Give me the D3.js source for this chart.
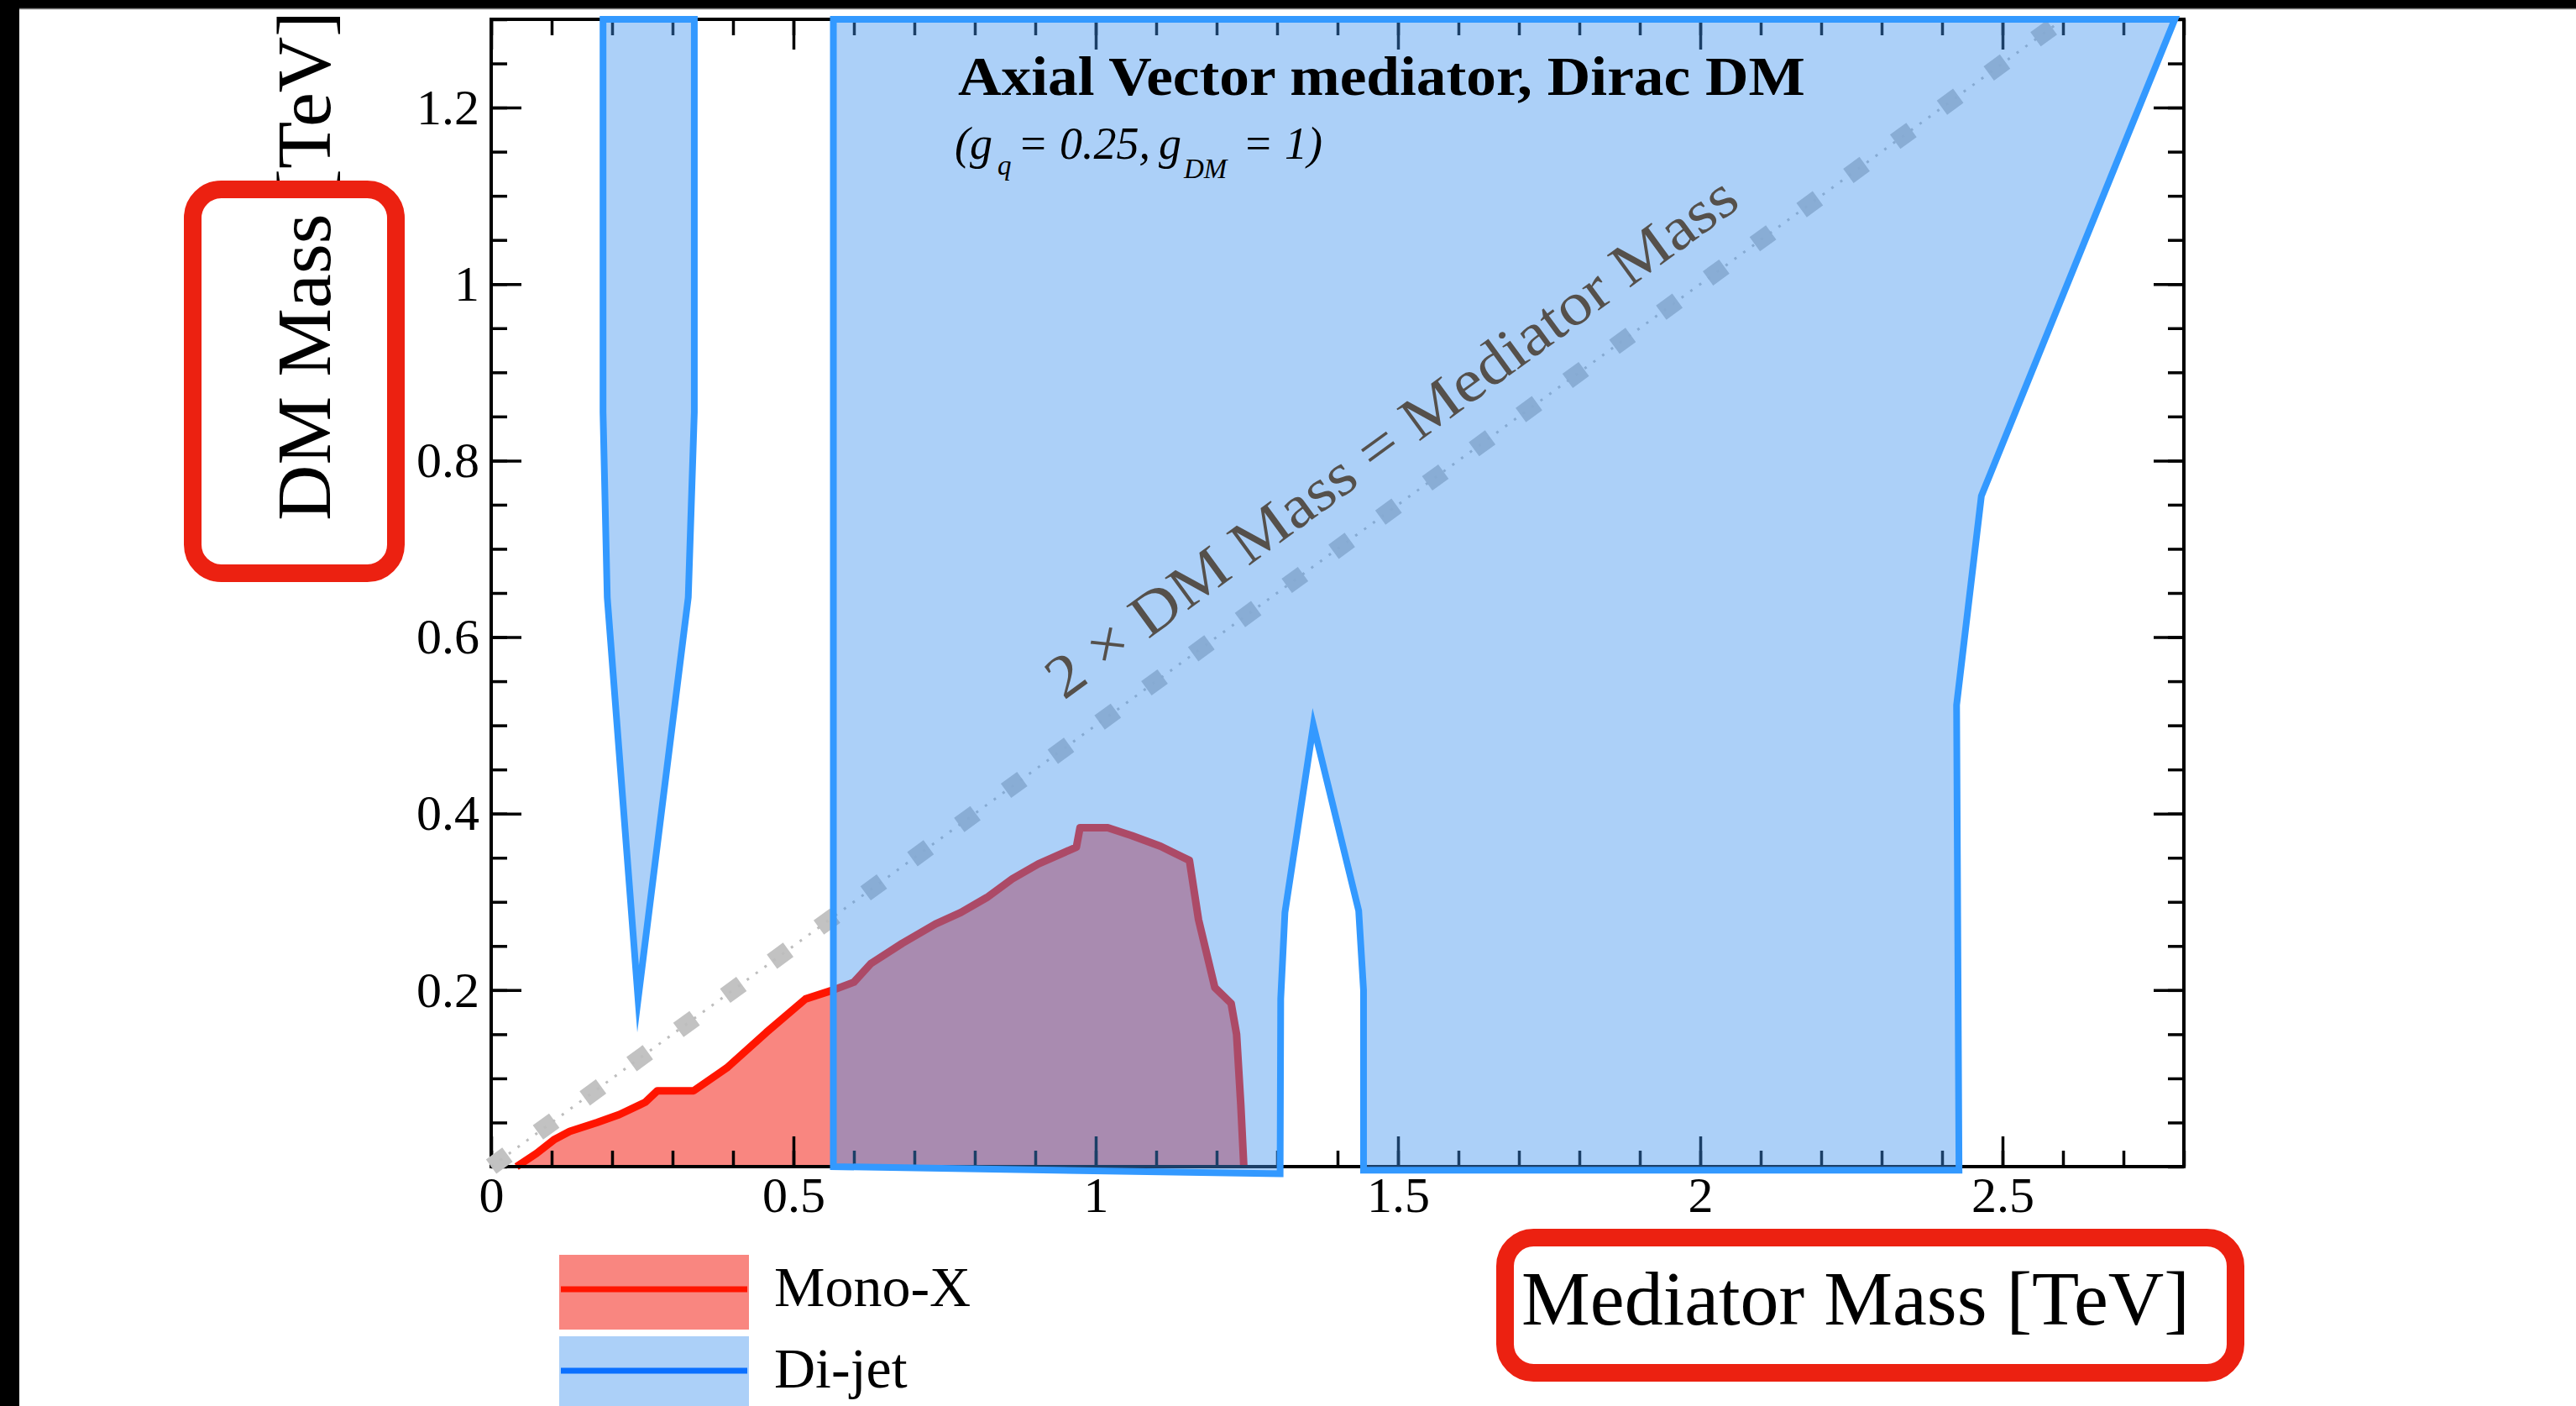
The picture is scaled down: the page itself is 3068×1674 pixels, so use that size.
<!DOCTYPE html>
<html>
<head>
<meta charset="utf-8">
<script src="https://cdn.jsdelivr.net/npm/d3@7"></script>
<style>
  html, body { margin: 0; padding: 0; background: #fff; }
  svg { display: block; }
  text { font-family: "Liberation Serif", "Times New Roman", serif; }
</style>
</head>
<body>
<svg id="chart" width="3068" height="1674"></svg>
<script>
// Mono-X exclusion contour: mediator mass vs DM mass [TeV]
const monoXMediator = [0.042, 0.075, 0.105, 0.13, 0.175, 0.212, 0.255, 0.275, 0.335, 0.39, 0.455, 0.52, 0.565, 0.6, 0.628, 0.68, 0.735, 0.777, 0.82, 0.862, 0.905, 0.968, 0.974, 1.02, 1.06, 1.107, 1.155, 1.17, 1.197, 1.224, 1.233, 1.24, 1.245];
const monoXDM       = [0.0,   0.015, 0.031, 0.04,  0.05,  0.059, 0.073, 0.086, 0.086, 0.112, 0.152, 0.19, 0.2,   0.209, 0.23,  0.253, 0.275, 0.288, 0.305, 0.326, 0.343, 0.362, 0.384, 0.384, 0.375, 0.363, 0.347, 0.28, 0.203, 0.185, 0.15,  0.07, 0.0];

// Di-jet excluded regions (closed contours)
const dijetLowMediator  = [0.185, 0.336, 0.336, 0.326, 0.243, 0.192, 0.185];
const dijetLowDM        = [1.3,   1.3,   0.855, 0.645, 0.19,  0.645, 0.855];
const dijetHighMediator = [0.566, 0.566, 2.785, 2.465, 2.424, 2.428, 1.443, 1.443, 1.435, 1.36, 1.313, 1.306, 1.305];
const dijetHighDM       = [0.0,   1.3,   1.3,   0.76,  0.523, -0.004, -0.004, 0.2,  0.29,  0.5,  0.288, 0.19,  -0.008];

// Reference line: 2 x DM mass = mediator mass
const diagonalMediator = [0, 2.6];
const diagonalDM = [0, 1.3];

const xTickValues = [0, 0.5, 1, 1.5, 2, 2.5];
const yTickValues = [0.2, 0.4, 0.6, 0.8, 1, 1.2];
const legendLabels = ["Mono-X", "Di-jet"];

const svg = d3.select("#chart");
const W = 3068, H = 1674;
const plot = { left: 585, right: 2601, top: 23, bottom: 1389 };

const x = d3.scaleLinear().domain([0, 2.8]).range([plot.left, plot.right]);
const y = d3.scaleLinear().domain([0, 1.3]).range([plot.bottom, plot.top]);

const zip = (xs, ys) => xs.map((v, i) => [v, ys[i]]);
const monoX = zip(monoXMediator, monoXDM);
const dijetRegions = [zip(dijetLowMediator, dijetLowDM), zip(dijetHighMediator, dijetHighDM)];

const red = "#ff1500", redFill = "#f98680";
const blueFill = "rgb(62,146,239)", blueFillOpacity = 0.433, blueLine = "#3399ff";

svg.append("rect").attr("width", W).attr("height", H).attr("fill", "#fff");

// Mono-X filled area and contour
svg.append("path")
  .datum(monoX)
  .attr("fill", redFill)
  .attr("d", d3.area().x(d => x(d[0])).y0(y(0)).y1(d => y(d[1])));
svg.append("path")
  .datum(monoX)
  .attr("fill", "none")
  .attr("stroke", red)
  .attr("stroke-width", 9)
  .attr("stroke-linejoin", "round")
  .attr("d", d3.line().x(d => x(d[0])).y(d => y(d[1])));

// Axes: ticks on all four sides, pointing inward
const minorX = d3.range(0, 2.8001, 0.1);
const minorY = d3.range(0, 1.3001, 0.05);
function addAxis(gen, tx, ty) {
  const g = svg.append("g").attr("transform", `translate(${tx},${ty})`).call(gen);
  g.select(".domain").remove();
  g.selectAll(".tick line").attr("stroke", "#000").attr("stroke-width", 3.5);
  g.selectAll("text").attr("font-family", "Liberation Serif, serif").attr("font-size", 60).attr("fill", "#000");
  return g;
}
addAxis(d3.axisBottom(x).tickValues(minorX).tickSize(-19).tickFormat(""), 0, plot.bottom);
addAxis(d3.axisBottom(x).tickValues(xTickValues).tickSize(-36).tickPadding(11).tickFormat(d => d), 0, plot.bottom);
addAxis(d3.axisTop(x).tickValues(minorX).tickSize(-19).tickFormat(""), 0, plot.top);
addAxis(d3.axisTop(x).tickValues(xTickValues).tickSize(-36).tickFormat(""), 0, plot.top);
addAxis(d3.axisLeft(y).tickValues(minorY).tickSize(-19).tickFormat(""), plot.left, 0);
addAxis(d3.axisLeft(y).tickValues(yTickValues).tickSize(-36).tickPadding(14).tickFormat(d => d), plot.left, 0);
addAxis(d3.axisRight(y).tickValues(minorY).tickSize(-19).tickFormat(""), plot.right, 0);
addAxis(d3.axisRight(y).tickValues(yTickValues).tickSize(-36).tickFormat(""), plot.right, 0);

svg.append("rect")
  .attr("x", plot.left).attr("y", plot.top)
  .attr("width", plot.right - plot.left).attr("height", plot.bottom - plot.top)
  .attr("fill", "none").attr("stroke", "#000").attr("stroke-width", 4);

// Diagonal reference line: thick square dashes with a thin dotted core
const diag = zip(diagonalMediator, diagonalDM);
const diagLine = d3.line().x(d => x(d[0])).y(d => y(d[1]));
svg.append("path").datum(diag).attr("d", diagLine)
  .attr("fill", "none").attr("stroke", "#c2c2c2").attr("stroke-width", 21).attr("stroke-dasharray", "24 45");
svg.append("path").datum(diag).attr("d", diagLine)
  .attr("fill", "none").attr("stroke", "#bdbdbd").attr("stroke-width", 3).attr("stroke-dasharray", "3 10");

// Di-jet regions
const polyLine = d3.line().x(d => x(d[0])).y(d => y(d[1])).curve(d3.curveLinearClosed);
svg.selectAll("path.dijet-fill").data(dijetRegions).join("path")
  .attr("class", "dijet-fill")
  .attr("d", polyLine)
  .attr("fill", blueFill).attr("fill-opacity", blueFillOpacity).attr("stroke", "none");
svg.selectAll("path.dijet-line").data(dijetRegions).join("path")
  .attr("class", "dijet-line")
  .attr("d", polyLine)
  .attr("fill", "none").attr("stroke", blueLine).attr("stroke-width", 8)
  .attr("stroke-linejoin", "miter").attr("stroke-miterlimit", 12);

// Title and coupling note
svg.append("text")
  .attr("x", 1141).attr("y", 113)
  .attr("font-size", 66).attr("font-weight", "bold")
  .attr("textLength", 1009).attr("lengthAdjust", "spacingAndGlyphs")
  .text("Axial Vector mediator, Dirac DM");

const note = svg.append("g").attr("font-style", "italic");
const notePieces = [
  { t: "(g", px: 1137, py: 189, fs: 54 },
  { t: "q", px: 1188, py: 208, fs: 33 },
  { t: "= 0.25,", px: 1212, py: 189, fs: 54 },
  { t: "g", px: 1380, py: 189, fs: 54 },
  { t: "DM", px: 1410, py: 212, fs: 33 },
  { t: "= 1)", px: 1480, py: 189, fs: 54 }
];
note.selectAll("text").data(notePieces).join("text")
  .attr("x", d => d.px).attr("y", d => d.py).attr("font-size", d => d.fs)
  .attr("fill", "#000")
  .text(d => d.t);

// Label along the diagonal
const angle = Math.atan2(y(0) - y(1.3), x(2.6) - x(0)) * 180 / Math.PI;
svg.append("text")
  .attr("transform", `translate(${x(0.985)},${y(0.985 / 2)}) rotate(${-angle})`)
  .attr("x", 0).attr("y", -46)
  .attr("font-size", 72).attr("fill", "#55504b")
  .attr("textLength", 1000).attr("lengthAdjust", "spacingAndGlyphs")
  .text("2 \u00d7 DM Mass = Mediator Mass");

// Axis titles
svg.append("text")
  .attr("transform", "translate(393,620) rotate(-90)")
  .attr("font-size", 92).attr("fill", "#000")
  .text("DM Mass [TeV]");
svg.append("text")
  .attr("x", 1812).attr("y", 1577)
  .attr("font-size", 92).attr("fill", "#000")
  .text("Mediator Mass [TeV]");

// Legend
const legendFills = [{ fill: redFill, op: 1, line: red }, { fill: blueFill, op: blueFillOpacity, line: "#0b70ff" }];
const legend = svg.append("g");
legendLabels.forEach((label, i) => {
  const y0 = 1494 + i * 97;
  legend.append("rect").attr("x", 666).attr("y", y0).attr("width", 226).attr("height", 89)
    .attr("fill", legendFills[i].fill).attr("fill-opacity", legendFills[i].op);
  legend.append("line").attr("x1", 668).attr("x2", 890).attr("y1", y0 + 41).attr("y2", y0 + 41)
    .attr("stroke", legendFills[i].line).attr("stroke-width", 7);
  legend.append("text").attr("x", 922).attr("y", y0 + 61)
    .attr("font-size", 68).attr("fill", "#000").text(label);
});

// Highlight boxes around the axis titles
const boxes = [
  { bx: 229.5, by: 225.5, bw: 242, bh: 457 },
  { bx: 1792.5, by: 1473.5, bw: 870, bh: 161 }
];
svg.selectAll("rect.hl").data(boxes).join("rect")
  .attr("class", "hl")
  .attr("x", d => d.bx).attr("y", d => d.by).attr("width", d => d.bw).attr("height", d => d.bh)
  .attr("rx", 34).attr("ry", 34)
  .attr("fill", "none").attr("stroke", "#ec2111").attr("stroke-width", 21);

// Dark border strips
svg.append("rect").attr("x", 0).attr("y", 0).attr("width", W).attr("height", 10).attr("fill", "#000");
svg.append("line").attr("x1", 23).attr("x2", W).attr("y1", 10.5).attr("y2", 10.5).attr("stroke", "#808080").attr("stroke-width", 1.5);
svg.append("rect").attr("x", 0).attr("y", 0).attr("width", 23).attr("height", H).attr("fill", "#000");
</script>
</body>
</html>
